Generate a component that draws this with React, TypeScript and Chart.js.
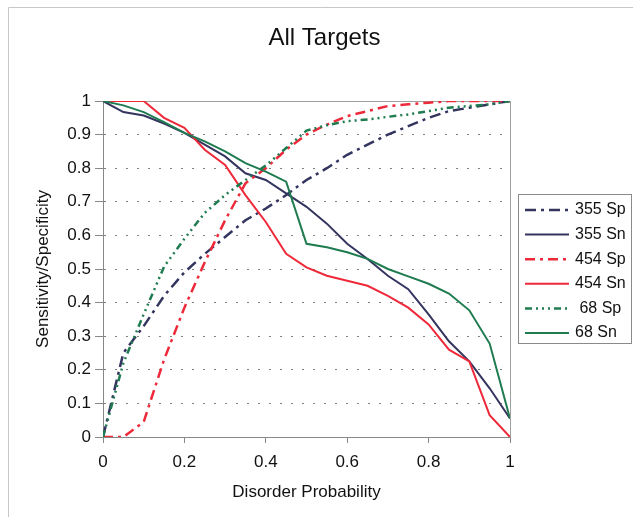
import React, { useEffect, useRef } from 'react';
import { Chart, registerables } from 'chart.js';

Chart.register(...registerables);

const probability = [0, 0.05, 0.1, 0.15, 0.2, 0.25, 0.3, 0.35, 0.4, 0.45, 0.5, 0.55, 0.6, 0.65, 0.7, 0.75, 0.8, 0.85, 0.9, 0.95, 1];

const sp355 = [0, 0.25, 0.33, 0.42, 0.49, 0.545, 0.595, 0.645, 0.68, 0.72, 0.765, 0.8, 0.84, 0.87, 0.9, 0.925, 0.95, 0.97, 0.98, 0.99, 1];
const sn355 = [1, 0.967, 0.957, 0.933, 0.905, 0.87, 0.835, 0.785, 0.765, 0.725, 0.685, 0.635, 0.575, 0.53, 0.48, 0.44, 0.365, 0.285, 0.225, 0.145, 0.055];
const sp454 = [0, 0, 0.045, 0.23, 0.385, 0.52, 0.645, 0.755, 0.8, 0.855, 0.9, 0.93, 0.955, 0.97, 0.985, 0.99, 0.995, 1, 1, 1, 1];
const sn454 = [1, 1, 1, 0.95, 0.92, 0.855, 0.81, 0.72, 0.64, 0.545, 0.505, 0.48, 0.465, 0.45, 0.42, 0.385, 0.335, 0.26, 0.225, 0.065, 0];
const sp68 = [0, 0.22, 0.365, 0.507, 0.59, 0.667, 0.72, 0.765, 0.808, 0.86, 0.912, 0.928, 0.94, 0.945, 0.953, 0.96, 0.97, 0.98, 0.985, 0.99, 1];
const sn68 = [1, 0.987, 0.967, 0.937, 0.905, 0.88, 0.85, 0.815, 0.79, 0.76, 0.575, 0.565, 0.55, 0.53, 0.5, 0.478, 0.456, 0.427, 0.377, 0.278, 0.055];

const seriesNames = ['355 Sp', '355 Sn', '454 Sp', '454 Sn', ' 68 Sp', '68 Sn'];
const seriesValues = [sp355, sn355, sp454, sn454, sp68, sn68];
const seriesColors = ['#34355f', '#34355f', '#ee2a3a', '#ee2a3a', '#1f7b50', '#1f7b50'];
const seriesDashes: number[][] = [[11, 5, 3, 5], [], [10, 5, 3, 5], [], [7, 4, 2, 4, 2, 4, 2, 4], []];
const seriesWidths = [2.5, 2, 2.5, 2, 2.5, 2];

const xTickLabels = ['0', '0.2', '0.4', '0.6', '0.8', '1'];
const yTickLabels = ['0', '0.1', '0.2', '0.3', '0.4', '0.5', '0.6', '0.7', '0.8', '0.9', '1'];

const chartTitle = 'All Targets';
const xTitle = 'Disorder Probability';
const yTitle = 'Sensitivity/Specificity';

const FONT = "Arial, 'Liberation Sans', sans-serif";

const decorPlugin = {
  id: 'decor',
  beforeDraw(chart: any) {
    const ctx = chart.ctx;
    ctx.save();
    ctx.fillStyle = '#ffffff';
    ctx.fillRect(0, 0, chart.width, chart.height);
    ctx.strokeStyle = '#c8c8c8';
    ctx.lineWidth = 1;
    ctx.beginPath();
    ctx.moveTo(8.5, chart.height);
    ctx.lineTo(8.5, 7.5);
    ctx.lineTo(chart.width, 7.5);
    ctx.stroke();
    ctx.restore();
  },
  beforeDatasetsDraw(chart: any) {
    const { ctx, chartArea } = chart;
    ctx.save();
    ctx.strokeStyle = '#a0a0a0';
    ctx.lineWidth = 1;
    ctx.setLineDash([]);
    ctx.beginPath();
    ctx.moveTo(chartArea.left, chartArea.top + 0.5);
    ctx.lineTo(chartArea.right + 0.5, chartArea.top + 0.5);
    ctx.lineTo(chartArea.right + 0.5, chartArea.bottom);
    ctx.stroke();
    ctx.strokeStyle = '#888888';
    ctx.beginPath();
    ctx.moveTo(chartArea.left + 0.5, chartArea.top);
    ctx.lineTo(chartArea.left + 0.5, chartArea.bottom + 0.5);
    ctx.lineTo(chartArea.right + 0.5, chartArea.bottom + 0.5);
    ctx.stroke();
    ctx.restore();
  },
  afterDraw(chart: any) {
    const ctx = chart.ctx;
    ctx.save();
    // title
    ctx.fillStyle = '#111111';
    ctx.font = `24px ${FONT}`;
    ctx.textAlign = 'center';
    ctx.textBaseline = 'middle';
    ctx.fillText(chartTitle, 324.5, 38);
    // legend
    ctx.strokeStyle = '#8a8a8a';
    ctx.lineWidth = 1;
    ctx.setLineDash([]);
    ctx.strokeRect(518.5, 194.5, 113, 149);
    const datasets = chart.data.datasets;
    ctx.font = `16px ${FONT}`;
    ctx.textAlign = 'left';
    datasets.forEach((ds: any, i: number) => {
      const y = 210 + i * 24.6;
      ctx.save();
      ctx.strokeStyle = ds.borderColor;
      ctx.lineWidth = ds.borderWidth;
      ctx.setLineDash(ds.borderDash || []);
      ctx.beginPath();
      ctx.moveTo(525, y);
      ctx.lineTo(569, y);
      ctx.stroke();
      ctx.restore();
      ctx.fillStyle = '#111111';
      ctx.fillText(ds.label, 575, y);
    });
    ctx.restore();
  },
};

export default function App() {
  const canvasRef = useRef<HTMLCanvasElement | null>(null);

  useEffect(() => {
    const canvas = canvasRef.current;
    if (!canvas) return;
    const datasets = seriesNames.map((name, i) => ({
      label: name,
      data: probability.map((p, j) => ({ x: p, y: seriesValues[i][j] })),
      borderColor: seriesColors[i],
      backgroundColor: seriesColors[i],
      borderDash: seriesDashes[i],
      borderWidth: seriesWidths[i],
      pointRadius: 0,
      tension: 0,
      fill: false,
      order: -i,
    }));
    const chart = new Chart(canvas, {
      type: 'line',
      data: { datasets },
      plugins: [decorPlugin],
      options: {
        responsive: false,
        animation: false,
        events: [],
        layout: { padding: { top: 101, right: 123, left: 0, bottom: 0 } },
        plugins: {
          legend: { display: false },
          title: { display: false },
          tooltip: { enabled: false },
        },
        scales: {
          x: {
            type: 'linear',
            min: 0,
            max: 1,
            ticks: {
              stepSize: 0.2,
              autoSkip: false,
              maxRotation: 0,
              padding: 9,
              color: '#111111',
              font: { size: 17, family: FONT },
              callback: (_v: any, i: number) => xTickLabels[i],
            },
            grid: {
              drawOnChartArea: false,
              drawTicks: true,
              tickLength: 6,
              tickColor: '#888888',
              color: '#888888',
            },
            border: { color: '#888888', width: 1 },
            title: {
              display: true,
              text: xTitle,
              color: '#111111',
              font: { size: 17, family: FONT },
              padding: { top: 0, bottom: 14.8 },
            },
            afterFit: (s: any) => {
              s.height = 80;
            },
          },
          y: {
            type: 'linear',
            min: 0,
            max: 1,
            ticks: {
              stepSize: 0.1,
              autoSkip: false,
              padding: 4,
              color: '#111111',
              font: { size: 17, family: FONT },
              callback: (_v: any, i: number) => yTickLabels[i],
            },
            grid: {
              drawOnChartArea: true,
              drawTicks: true,
              tickLength: 8,
              tickColor: '#888888',
              color: '#808080',
              lineWidth: 1,
            },
            border: { color: '#888888', width: 1, dash: [2, 9] },
            title: {
              display: true,
              text: yTitle,
              color: '#111111',
              font: { size: 17, family: FONT },
              padding: { top: 32.8, bottom: 0 },
            },
            afterFit: (s: any) => {
              s.width = 103;
            },
          },
        },
      } as any,
    });
    return () => chart.destroy();
  }, []);

  return (
    <div style={{ position: 'absolute', left: 0, top: 0, width: 633, height: 517 }}>
      <canvas ref={canvasRef} width={633} height={517} style={{ display: 'block' }} />
    </div>
  );
}
